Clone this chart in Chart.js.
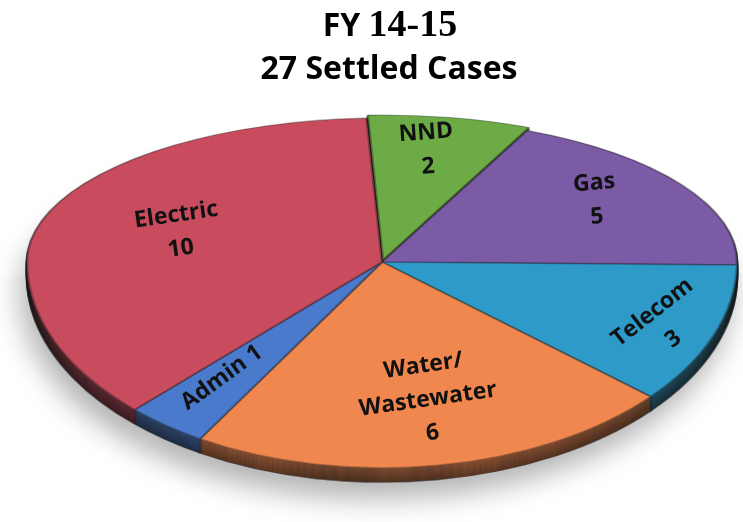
<!DOCTYPE html>
<html>
<head>
<meta charset="utf-8">
<script src="https://cdn.jsdelivr.net/npm/chart.js@4.4.1/dist/chart.umd.min.js"></script>
<style>
html, body { margin: 0; padding: 0; background: #fff; }
</style>
</head>
<body>
<canvas id="myChart" width="743" height="522"></canvas>
<script>
/** 数据 */
var categories = ['NND', 'Gas', 'Telecom', 'Water/Wastewater', 'Admin', 'Electric']
var caseCounts = [2, 5, 3, 6, 1, 10]
var labelLines = [['NND', '2'], ['Gas', '5'], ['Telecom', '3'], ['Water/', 'Wastewater', '6'], ['Admin 1'], ['Electric', '10']]
var titleYear = ['FY ', '14-15']
var titleSub = '27 Settled Cases'

var sliceColors = ['#6cab45', '#7b5aa6', '#2e9ac8', '#f0874e', '#4a7acb', '#c84b5e']

/** fake 3D view: top half and front half squashed differently */
var view = { cx: 382, cy: 262, rx: 355, ryTop: 144, ryBottom: 206, depth: 14 }

// label placement: radius fraction, angle nudge (deg), text rotation (deg)
var labelPlace = [
    { r: 0.79, da: -1.6, rot: -4 },
    { r: 0.74, da: -3.1, rot: -5 },
    { r: 0.85, da: 0.6, rot: -38 },
    { r: 0.68, da: -1.8, rot: -8 },
    { r: 0.72, da: 1.3, rot: -36 },
    { r: 0.61, da: -0.8, rot: -8 }
]

function project(angle, frac) {
    var x = Math.cos(angle) * frac
    var y = Math.sin(angle) * frac
    return {
        x: view.cx + x * view.rx,
        y: view.cy + y * (y < 0 ? view.ryTop : view.ryBottom)
    }
}

var pie3d = {
    id: 'pie3d',
    beforeDatasetsDraw: function (chart) {
        var ctx = chart.ctx
        var arcs = chart.getDatasetMeta(0).data
        var R = arcs[0].outerRadius
        var ox = arcs[0].x
        var oy = arcs[0].y

        function drawHalf(top, shift) {
            ctx.save()
            ctx.beginPath()
            if (top) ctx.rect(0, 0, chart.width, view.cy + shift)
            else ctx.rect(0, view.cy + shift, chart.width, chart.height)
            ctx.clip()
            ctx.translate(view.cx, view.cy + shift)
            ctx.scale(view.rx / R, (top ? view.ryTop : view.ryBottom) / R)
            ctx.translate(-ox, -oy)
            arcs.forEach(function (a) { a.draw(ctx) })
            ctx.restore()
        }

        // shadow under the pie
        ctx.save()
        ctx.shadowColor = 'rgba(0,0,0,0.3)'
        ctx.shadowBlur = 28
        ctx.shadowOffsetX = -6
        ctx.shadowOffsetY = 16
        ctx.filter = 'brightness(0.6)'
        drawHalf(true, view.depth)
        drawHalf(false, view.depth)
        ctx.restore()

        // side of the pie
        for (var d = view.depth; d >= 1; d--) {
            ctx.save()
            ctx.filter = 'brightness(' + (0.6 + 0.02 * (view.depth - d)) + ')'
            drawHalf(true, d)
            drawHalf(false, d)
            ctx.restore()
        }

        // top face
        drawHalf(true, 0)
        drawHalf(false, 0)
        return false
    },
    afterDraw: function (chart) {
        var ctx = chart.ctx
        var arcs = chart.getDatasetMeta(0).data

        /** 标题 */
        ctx.save()
        ctx.fillStyle = '#000'
        ctx.textBaseline = 'alphabetic'
        ctx.textAlign = 'left'
        var f1 = 'bold 32px "Open Sans"'
        var f2 = 'bold 38px "Liberation Serif"'
        ctx.font = f1
        var w1 = ctx.measureText(titleYear[0]).width
        ctx.font = f2
        var w2 = ctx.measureText(titleYear[1]).width
        var x0 = 390 - (w1 + w2) / 2
        ctx.font = f1
        ctx.fillText(titleYear[0], x0, 36)
        ctx.font = f2
        ctx.fillText(titleYear[1], x0 + w1, 36)
        ctx.font = 'bold 32px "Open Sans"'
        ctx.textAlign = 'center'
        ctx.fillText(titleSub, 389, 79)
        ctx.restore()

        /** 扇区标签 */
        arcs.forEach(function (a, i) {
            var lp = labelPlace[i]
            var mid = (a.startAngle + a.endAngle) / 2 + lp.da * Math.PI / 180
            var p = project(mid, lp.r)
            var lines = labelLines[i]
            var lh = 34
            ctx.save()
            ctx.translate(p.x, p.y)
            ctx.rotate(lp.rot * Math.PI / 180)
            ctx.font = 'bold 23px "Open Sans"'
            ctx.fillStyle = '#111'
            ctx.textAlign = 'center'
            ctx.textBaseline = 'middle'
            lines.forEach(function (t, k) {
                ctx.fillText(t, 0, (k - (lines.length - 1) / 2) * lh)
            })
            ctx.restore()
        })
    }
}

var ctx = document.getElementById('myChart').getContext('2d')
var myChart = new Chart(ctx, {
    type: 'pie',
    data: {
        labels: categories,
        datasets: [{
            data: caseCounts,
            backgroundColor: sliceColors,
            borderColor: 'rgba(30,30,30,0.35)',
            borderWidth: 2,
            offset: [14, 0, 0, 0, 0, 0]
        }]
    },
    options: {
        responsive: false,
        devicePixelRatio: 1,
        animation: false,
        events: [],
        rotation: -2.5,
        layout: { padding: 0 },
        plugins: {
            legend: { display: false },
            tooltip: { enabled: false },
            title: { display: false }
        }
    },
    plugins: [pie3d]
})
</script>
</body>
</html>
